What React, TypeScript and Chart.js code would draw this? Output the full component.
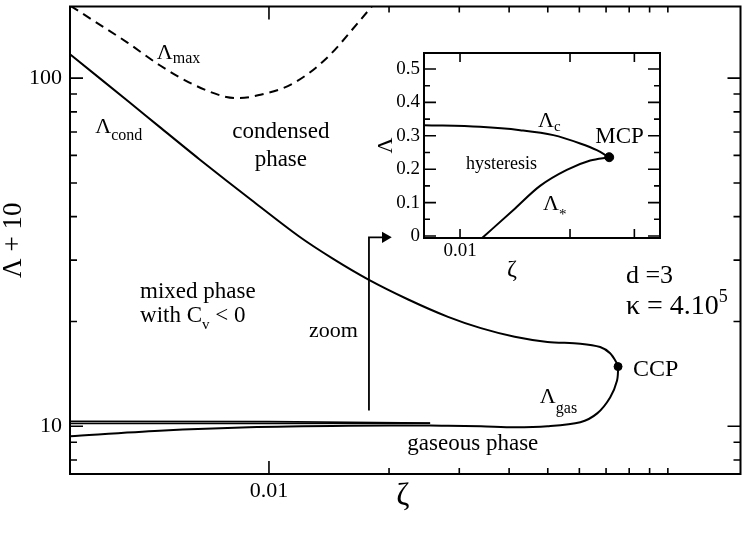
import { useEffect, useRef } from "react";
import { Chart, registerables } from "chart.js";

Chart.register(...registerables);

const SERIF = '"Liberation Serif", "DejaVu Serif", serif';

// ---------------- main panel: zeta (log) vs Lambda + 10 (log) ----------------
const lambdaMaxZeta = [0.00318, 0.003628, 0.004408, 0.005324, 0.006435, 0.007817, 0.00842, 0.009443, 0.01141, 0.01386, 0.01675, 0.01845];
const lambdaMaxValue = [161.3, 146.4, 126.7, 108.9, 96.1, 88.3, 87.7, 89.4, 96.1, 113.3, 144.5, 164.9];

const condGasZeta = [
  0.003171, 0.004476, 0.005317, 0.00669, 0.00907, 0.01188, 0.01452, 0.01776, 0.02234, 0.02811, 0.03398,
  0.0413, 0.04992, 0.06033, 0.06766, 0.07166, 0.07459, 0.07502, 0.07459, 0.07166, 0.0665,
  0.06033, 0.04992, 0.0413, 0.03398, 0.02811, 0.02535, 0.01583, 0.008915, 0.005317, 0.003171,
];
const condGasValue = [
  117.1, 85.1, 72.44, 58.5, 44.5, 35.13, 30.2, 26.38, 23.13, 20.62, 19.14,
  18.08, 17.47, 17.27, 16.89, 16.2, 15.14, 14.84, 13.53, 12.1, 10.89,
  10.27, 10.0, 9.934, 10.0, 10.03, 10.05, 10.03, 9.934, 9.71, 9.364,
];

const upperBranchZeta = [0.003171, 0.01, 0.02535];
const upperBranchValue = [10.33, 10.31, 10.22];
const lowerBranchZeta = [0.003171, 0.01, 0.02535];
const lowerBranchValue = [10.19, 10.19, 10.2];

const ccpZeta = [0.07502];
const ccpValue = [14.84];

const zoomArrowZeta = [0.01781, 0.01781, 0.01957];
const zoomArrowValue = [11.1, 34.9, 34.9];

const MAIN_X_MIN = 0.003171;
const MAIN_X_MAX = 0.1521;
const MAIN_Y_MIN = 7.293;
const MAIN_Y_MAX = 160.6;
const mainXLabeled = [0.01];
const mainXMinor = [0.02, 0.03, 0.04, 0.05, 0.06, 0.07, 0.08, 0.09, 0.1];
const mainYLabeled = [10, 100];
const mainYMinor = [8, 9, 20, 30, 40, 50, 60, 70, 80, 90];

// ---------------- inset: zeta (log) vs Lambda ----------------
const lambdaCZeta = [0.00797, 0.01134, 0.0146, 0.018, 0.02132, 0.02368, 0.0256];
const lambdaCValue = [0.332, 0.327, 0.317, 0.302, 0.277, 0.257, 0.236];
const lambdaStarZeta = [0.01147, 0.014, 0.01656, 0.0196, 0.02271, 0.0256];
const lambdaStarValue = [-0.007, 0.078, 0.15, 0.198, 0.226, 0.236];
const mcpZeta = [0.0256];
const mcpValue = [0.236];

const INSET_X_MIN = 0.007969;
const INSET_X_MAX = 0.03526;
const INSET_Y_MIN = -0.006;
const INSET_Y_MAX = 0.548;
const insetXTicks = [0.01, 0.02, 0.03];
const insetXLabeled = [0.01];
const insetYMajor = [0, 0.1, 0.2, 0.3, 0.4, 0.5];
const insetYMinor = [0.05, 0.15, 0.25, 0.35, 0.45];

type Part = [string, number, number?];
type Note = { parts: Part[]; x: number; y: number; align: "left" | "center" };

const mainNotes: Note[] = [
  { parts: [["Λ", 22], ["max", 16, 4]], x: 0.005235, y: 113.3, align: "left" },
  { parts: [["Λ", 22], ["cond", 16, 7]], x: 0.003669, y: 69.64, align: "left" },
  { parts: [["condensed", 23]], x: 0.01071, y: 67.4, align: "center" },
  { parts: [["phase", 23]], x: 0.01071, y: 56.07, align: "center" },
  { parts: [["mixed phase", 23]], x: 0.004751, y: 23.36, align: "left" },
  { parts: [["with C", 23], ["v", 15, 7], [" < 0", 23]], x: 0.004751, y: 19.95, align: "left" },
  { parts: [["zoom", 22]], x: 0.01451, y: 17.99, align: "center" },
  { parts: [["gaseous phase", 23]], x: 0.03244, y: 8.539, align: "center" },
  { parts: [["Λ", 22], ["gas", 16, 10]], x: 0.04776, y: 11.63, align: "left" },
  { parts: [["CCP", 24]], x: 0.08177, y: 13.99, align: "left" },
  { parts: [["d =3", 26]], x: 0.0785, y: 25.79, align: "left" },
  { parts: [["κ = 4.10", 28], ["5", 18, -12]], x: 0.0785, y: 21.03, align: "left" },
];

const insetNotes: Note[] = [
  { parts: [["Λ", 22], ["c", 15, 4]], x: 0.01635, y: 0.3263, align: "left" },
  { parts: [["MCP", 23]], x: 0.02344, y: 0.2784, align: "left" },
  { parts: [["hysteresis", 18]], x: 0.01038, y: 0.2006, align: "left" },
  { parts: [["Λ", 22], ["*", 15, 9]], x: 0.01688, y: 0.0778, align: "left" },
];

const pts = (xs: number[], ys: number[]) => xs.map((x, i) => ({ x, y: ys[i] }));

function lineDs(data: any[], extra: any = {}) {
  return {
    data,
    showLine: true,
    borderColor: "#000",
    backgroundColor: "#000",
    borderWidth: 2,
    pointRadius: 0,
    tension: 0.3,
    fill: false,
    ...extra,
  };
}

function drawRich(ctx: CanvasRenderingContext2D, parts: Part[], px: number, py: number, align: string) {
  let total = 0;
  for (const [t, s] of parts) {
    ctx.font = `${s}px ${SERIF}`;
    total += ctx.measureText(t).width;
  }
  let x = align === "center" ? px - total / 2 : px;
  ctx.textAlign = "left";
  ctx.textBaseline = "alphabetic";
  ctx.fillStyle = "#000";
  for (const [t, s, dy] of parts) {
    ctx.font = `${s}px ${SERIF}`;
    ctx.fillText(t, x, py + (dy ?? 0));
    x += ctx.measureText(t).width;
  }
}

function frameTicks(
  chart: any,
  xMajor: number[],
  xMinor: number[],
  yMajor: number[],
  yMinor: number[],
  xLen: [number, number],
  yLen: [number, number]
) {
  const { ctx, chartArea: a } = chart;
  const xs = chart.scales.x;
  const ys = chart.scales.y;
  ctx.save();
  ctx.strokeStyle = "#000";
  ctx.lineWidth = 1.6;
  ctx.beginPath();
  const vTick = (v: number, len: number) => {
    const p = xs.getPixelForValue(v);
    ctx.moveTo(p, a.bottom);
    ctx.lineTo(p, a.bottom - len);
    ctx.moveTo(p, a.top);
    ctx.lineTo(p, a.top + len);
  };
  const hTick = (v: number, len: number) => {
    const p = ys.getPixelForValue(v);
    ctx.moveTo(a.left, p);
    ctx.lineTo(a.left + len, p);
    ctx.moveTo(a.right, p);
    ctx.lineTo(a.right - len, p);
  };
  xMajor.forEach((v) => vTick(v, xLen[0]));
  xMinor.forEach((v) => vTick(v, xLen[1]));
  yMajor.forEach((v) => hTick(v, yLen[0]));
  yMinor.forEach((v) => hTick(v, yLen[1]));
  ctx.stroke();
  ctx.lineWidth = 2;
  ctx.strokeRect(a.left, a.top, a.right - a.left, a.bottom - a.top);
  ctx.restore();
}

const fmtTick = (v: number) => (v === 0 ? "0" : v < 0.095 ? String(v) : v >= 1 ? String(v) : v.toFixed(1));

function zeroPad(s: any) {
  s.paddingTop = 0;
  s.paddingBottom = 0;
  s.paddingLeft = 0;
  s.paddingRight = 0;
}

function mainConfig(): any {
  const decor = {
    id: "mainDecor",
    afterDraw(chart: any) {
      frameTicks(chart, mainXLabeled, mainXMinor, mainYLabeled, mainYMinor, [13, 6], [13, 7]);
      const { ctx, chartArea: a } = chart;
      const xs = chart.scales.x;
      const ys = chart.scales.y;
      ctx.save();
      for (const n of mainNotes) {
        drawRich(ctx, n.parts, xs.getPixelForValue(n.x), ys.getPixelForValue(n.y), n.align);
      }
      drawRich(ctx, [["ζ", 32]], xs.getPixelForValue(0.02167), a.bottom + 31, "center");
      ctx.translate(a.left - 56, (a.top + a.bottom) / 2);
      ctx.rotate(-Math.PI / 2);
      ctx.font = `27px ${SERIF}`;
      ctx.textAlign = "center";
      ctx.textBaseline = "middle";
      ctx.fillStyle = "#000";
      ctx.fillText("Λ + 10", 0, 0);
      ctx.restore();
    },
  };
  return {
    type: "scatter",
    data: {
      datasets: [
        lineDs(pts(lambdaMaxZeta, lambdaMaxValue), { borderDash: [9, 6], cubicInterpolationMode: "monotone" }),
        lineDs(pts(condGasZeta, condGasValue)),
        lineDs(pts(upperBranchZeta, upperBranchValue), { borderWidth: 1.6, tension: 0 }),
        lineDs(pts(lowerBranchZeta, lowerBranchValue), { borderWidth: 1.6, tension: 0 }),
        lineDs(pts(zoomArrowZeta, zoomArrowValue), {
          borderWidth: 1.8,
          tension: 0,
          pointRadius: [0, 0, 6.5],
          pointStyle: "triangle",
          rotation: 90,
          pointBackgroundColor: "#000",
          pointBorderWidth: 0,
        }),
        { data: pts(ccpZeta, ccpValue), pointRadius: 4, backgroundColor: "#000", borderColor: "#000" },
      ],
    },
    options: {
      responsive: false,
      maintainAspectRatio: false,
      animation: false,
      events: [],
      layout: { padding: { left: 0, right: 3, top: 4, bottom: 0 } },
      plugins: { legend: { display: false }, tooltip: { enabled: false } },
      scales: {
        x: {
          type: "logarithmic",
          min: MAIN_X_MIN,
          max: MAIN_X_MAX,
          grid: { display: false, drawTicks: false },
          border: { display: false },
          afterBuildTicks: (s: any) => {
            s.ticks = mainXLabeled.map((v) => ({ value: v }));
          },
          ticks: {
            autoSkip: false,
            maxRotation: 0,
            padding: 4,
            color: "#000",
            font: { family: SERIF, size: 22 },
            callback: (v: any) => fmtTick(Number(v)),
          },
          afterFit: (s: any) => {
            s.height = 60;
            zeroPad(s);
          },
        },
        y: {
          type: "logarithmic",
          min: MAIN_Y_MIN,
          max: MAIN_Y_MAX,
          grid: { display: false, drawTicks: false },
          border: { display: false },
          afterBuildTicks: (s: any) => {
            s.ticks = mainYLabeled.map((v) => ({ value: v }));
          },
          ticks: {
            autoSkip: false,
            padding: 8,
            color: "#000",
            font: { family: SERIF, size: 22 },
            callback: (v: any) => String(Number(v)),
          },
          afterFit: (s: any) => {
            s.width = 70;
            zeroPad(s);
          },
        },
      },
    },
    plugins: [decor],
  };
}

function insetConfig(): any {
  const decor = {
    id: "insetDecor",
    afterDraw(chart: any) {
      frameTicks(chart, insetXTicks, [], insetYMajor, insetYMinor, [9, 5], [12, 6]);
      const { ctx, chartArea: a } = chart;
      const xs = chart.scales.x;
      const ys = chart.scales.y;
      ctx.save();
      for (const n of insetNotes) {
        drawRich(ctx, n.parts, xs.getPixelForValue(n.x), ys.getPixelForValue(n.y), n.align);
      }
      drawRich(ctx, [["ζ", 24]], xs.getPixelForValue(0.01388), a.bottom + 38, "center");
      ctx.translate(a.left - 38, (a.top + a.bottom) / 2);
      ctx.rotate(-Math.PI / 2);
      ctx.font = `22px ${SERIF}`;
      ctx.textAlign = "center";
      ctx.textBaseline = "middle";
      ctx.fillStyle = "#000";
      ctx.fillText("Λ", 0, 0);
      ctx.restore();
    },
  };
  return {
    type: "scatter",
    data: {
      datasets: [
        lineDs(pts(lambdaCZeta, lambdaCValue), { cubicInterpolationMode: "monotone" }),
        lineDs(pts(lambdaStarZeta, lambdaStarValue), { cubicInterpolationMode: "monotone" }),
        { data: pts(mcpZeta, mcpValue), pointRadius: 4.5, backgroundColor: "#000", borderColor: "#000" },
      ],
    },
    options: {
      responsive: false,
      maintainAspectRatio: false,
      animation: false,
      events: [],
      layout: { padding: { left: 0, right: 40, top: 23, bottom: 0 } },
      plugins: { legend: { display: false }, tooltip: { enabled: false } },
      scales: {
        x: {
          type: "logarithmic",
          min: INSET_X_MIN,
          max: INSET_X_MAX,
          grid: { display: false, drawTicks: false },
          border: { display: false },
          afterBuildTicks: (s: any) => {
            s.ticks = insetXLabeled.map((v) => ({ value: v }));
          },
          ticks: {
            autoSkip: false,
            maxRotation: 0,
            padding: 2,
            color: "#000",
            font: { family: SERIF, size: 19 },
            callback: (v: any) => fmtTick(Number(v)),
          },
          afterFit: (s: any) => {
            s.height = 52;
            zeroPad(s);
          },
        },
        y: {
          type: "linear",
          min: INSET_Y_MIN,
          max: INSET_Y_MAX,
          grid: { display: false, drawTicks: false },
          border: { display: false },
          afterBuildTicks: (s: any) => {
            s.ticks = insetYMajor.map((v) => ({ value: v }));
          },
          ticks: {
            autoSkip: false,
            padding: 4,
            color: "#000",
            font: { family: SERIF, size: 19 },
            callback: (v: any) => fmtTick(Number(v)),
          },
          afterFit: (s: any) => {
            s.width = 64;
            zeroPad(s);
          },
        },
      },
    },
    plugins: [decor],
  };
}

export default function App() {
  const mainRef = useRef<HTMLCanvasElement>(null);
  const insetRef = useRef<HTMLCanvasElement>(null);
  useEffect(() => {
    const main = new Chart(mainRef.current as HTMLCanvasElement, mainConfig());
    const inset = new Chart(insetRef.current as HTMLCanvasElement, insetConfig());
    return () => {
      main.destroy();
      inset.destroy();
    };
  }, []);
  return (
    <div style={{ position: "absolute", left: 0, top: 0, width: 747, height: 534, background: "#fff" }}>
      <canvas ref={mainRef} width={747} height={534} style={{ position: "absolute", left: 0, top: 0 }} />
      <canvas ref={insetRef} width={340} height={260} style={{ position: "absolute", left: 360, top: 30 }} />
    </div>
  );
}
